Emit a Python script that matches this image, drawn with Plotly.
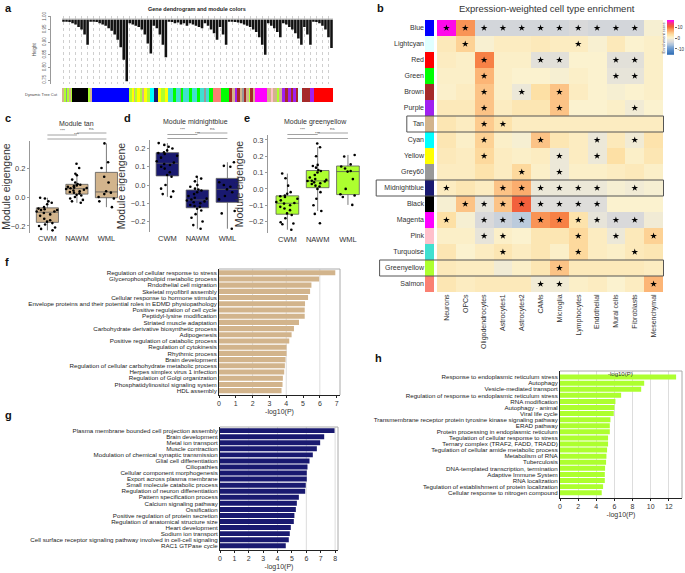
import numpy as np
import plotly.graph_objects as go

W, H = 685, 573
FONT = "Liberation Sans, Arial, sans-serif"

# ---------------- panel a : dendrogram + module colours ----------------
leaf_heights = [
    0.985, 0.983, 0.98, 0.975, 0.97, 0.96, 0.95, 0.93, 0.89,
    0.985, 0.983, 0.98, 0.975, 0.97, 0.965, 0.955, 0.945, 0.93, 0.91, 0.88, 0.83, 0.745,
    0.975, 0.97, 0.965, 0.96, 0.95, 0.93, 0.895, 0.855,
    0.965, 0.955, 0.93, 0.89, 0.84,
    0.985, 0.98, 0.975, 0.978, 0.97, 0.975, 0.965, 0.975, 0.97, 0.965, 0.96, 0.955,
    0.975, 0.965, 0.95, 0.935, 0.91,
    0.96, 0.93, 0.89,
    0.985, 0.983, 0.98, 0.978, 0.975, 0.97, 0.965, 0.96, 0.95, 0.94, 0.92, 0.89, 0.85,
    0.975, 0.965, 0.955, 0.94, 0.92,
    0.975, 0.97, 0.96, 0.95, 0.935, 0.915, 0.89,
    0.96, 0.93, 0.89,
    0.985, 0.98, 0.975, 0.965, 0.95, 0.92, 0.877]
merge_height = 0.99
height_ticks = [0.75, 0.80, 0.85, 0.90, 0.95, 1.00]

tree_cut_colors = ["tan", "greenyellow", "grey60", "greenyellow", "tan", "greenyellow",
                   "black", "greenyellow", "tan", "blue",
                   "greenyellow", "yellow", "tan", "greenyellow", "yellow", "greenyellow", "tan", "yellow", "greenyellow",
                   "cyan", "midnightblue", "yellow", "greenyellow", "yellow",
                   "turquoise", "green", "turquoise", "grey60", "green", "turquoise", "green", "turquoise", "green",
                   "turquoise", "grey60", "turquoise", "green",
                   "salmon", "green",
                   "brown", "tan", "purple", "brown", "tan", "grey60", "brown", "tan", "greenyellow", "brown", "tan",
                   "magenta", "tan", "pink", "tan", "greenyellow", "tan",
                   "purple", "brown", "purple", "brown", "purple", "brown",
                   "lightcyan", "brown", "purple", "red"]
tree_cut_widths = [2, 2, 1, 2, 2, 1,
                   16, 2, 2, 37,
                   3, 2, 1, 2, 3, 2, 2, 3, 3,
                   4, 4, 3, 4, 3,
                   5, 3, 4, 1, 2, 6, 3, 5, 3,
                   4, 2, 3, 4,
                   8, 8,
                   3, 3, 2, 3, 2, 2, 2, 3, 1, 3, 2,
                   12, 4, 2, 4, 2, 3,
                   3, 3, 3, 2, 3, 2,
                   4, 8, 4, 19]
R_COLORS = {"tan": "#D2B48C", "greenyellow": "#ADFF2F", "grey60": "#999999", "black": "#000000",
            "blue": "#0000FF", "yellow": "#FFFF00", "cyan": "#00FFFF", "midnightblue": "#191970",
            "turquoise": "#40E0D0", "green": "#00FF00", "salmon": "#FA8072", "brown": "#A52A2A",
            "purple": "#A020F0", "magenta": "#FF00FF", "pink": "#FFC0CB", "lightcyan": "#E0FFFF",
            "red": "#FF0000"}

# ---------------- panels c, d, e : module eigengenes ----------------
groups = ["CWM", "NAWM", "WML"]
tan_me = {
    "CWM": [-0.23, -0.22, -0.21, -0.20, -0.19, -0.18, -0.17, -0.16, -0.15, -0.13, -0.12, -0.11,
            -0.10, -0.10, -0.09, -0.09, -0.085, -0.08, -0.07, -0.05, -0.04, -0.03, -0.01, -0.005],
    "NAWM": [-0.04, -0.03, -0.02, -0.01, 0.0, 0.01, 0.015, 0.025, 0.03, 0.035, 0.04, 0.045, 0.05, 0.055,
             0.06, 0.062, 0.065, 0.07, 0.075, 0.08, 0.085, 0.09, 0.10, 0.12, 0.15, 0.16, 0.20, 0.23],
    "WML": [-0.07, -0.03, -0.01, 0.0, 0.02, 0.03, 0.04, 0.10, 0.14, 0.20, 0.24, 0.37],
}
midnightblue_me = {
    "CWM": [-0.065, -0.05, -0.035, -0.02, 0.0, 0.045, 0.055, 0.07, 0.09, 0.10, 0.11, 0.115,
            0.123, 0.13, 0.15, 0.16, 0.17, 0.175, 0.18, 0.19, 0.20, 0.21, 0.22, 0.23],
    "NAWM": [-0.24, -0.22, -0.20, -0.18, -0.16, -0.14, -0.13, -0.12, -0.115, -0.11, -0.10, -0.095, -0.09, -0.085,
             -0.08, -0.075, -0.07, -0.06, -0.05, -0.04, -0.03, -0.025, -0.02, -0.01, 0.0, 0.02, 0.035, 0.045],
    "WML": [-0.24, -0.156, -0.143, -0.079, -0.06, -0.04, -0.024, -0.01, 0.0, 0.015, 0.10, 0.105, 0.125],
}
greenyellow_me = {
    "CWM": [-0.25, -0.216, -0.212, -0.204, -0.18, -0.16, -0.15, -0.13, -0.12, -0.11, -0.10, -0.09,
            -0.086, -0.08, -0.07, -0.06, -0.05, -0.045, -0.04, -0.03, -0.02, 0.02, 0.065, 0.094],
    "NAWM": [-0.21, -0.153, -0.135, -0.10, -0.06, -0.02, 0.0, 0.015, 0.02, 0.03, 0.035, 0.04, 0.045, 0.048,
             0.05, 0.055, 0.06, 0.07, 0.085, 0.10, 0.11, 0.115, 0.13, 0.14, 0.147, 0.20, 0.255, 0.278],
    "WML": [-0.098, -0.05, -0.04, -0.033, 0.0, 0.06, 0.106, 0.11, 0.125, 0.137, 0.15, 0.198, 0.208],
}
comparisons = [(0, 1, "***"), (1, 2, "ns"), (0, 2, "***")]

# ---------------- panel b : cell type enrichment ----------------
modules = ["Blue", "Lightcyan", "Red", "Green", "Brown", "Purple", "Tan", "Cyan", "Yellow", "Grey60",
           "Midnightblue", "Black", "Magenta", "Pink", "Turquoise", "Greenyellow", "Salmon"]
module_hex = ["#0000FF", "#E0FFFF", "#FF0000", "#00FF00", "#A52A2A", "#A020F0", "#D2B48C", "#00FFFF",
              "#FFFF00", "#999999", "#191970", "#000000", "#FF00FF", "#FFC0CB", "#40E0D0", "#ADFF2F", "#FA8072"]
cell_types = ["Neurons", "OPCs", "Oligodendrocytes", "Astrocytes1", "Astrocytes2", "CAMs", "Microglia",
              "Lymphocytes", "Endothelial", "Mural cells", "Fibroblasts", "Mesenchymal"]
enrichment = [
    [16, 8, -4, -4, -4, -4, -4, -3.5, -4, -4, -4, -0.5],
    [1.5, 4, -0.3, 1, 1, 1.5, 1, 1, -0.3, 1.5, 0, 0.5],
    [1, 0.5, 9, 0.5, 0.5, -2.5, -2.5, 0, 0, -2.5, -2.5, 0.5],
    [0.5, 0.5, 6, 0.5, 0, 0, -0.5, 0.5, 0, -2, -2, 0.5],
    [0.3, 1, 5, 0.5, -1.5, 3, 5, 1, 0, -0.5, 0, 0.5],
    [1.5, 1.5, 5, 1, 2, 2, 5, 0, 0, 0.5, -1, 0],
    [2, 1, 4.5, 2.5, 1, 1, 1, 1, 1, 1, 1, 1],
    [2, 0.5, 4, 0.5, -0.5, 5, 2, 1, -1.5, 1.5, -1, 2.5],
    [1.5, 1, 3.5, 1, 0.5, 1, -1.5, 1, -1.5, 3, 0.5, 2],
    [1, 1, 2.5, 1, 3.5, 0.5, -1.5, 0.5, 0.5, 1, 1.5, 0.5],
    [1, 2, 1, 5, 6.5, -1.5, -1.5, -1.5, -1.5, -0.5, -1, -0.5],
    [-0.5, 5, -2, 5, 10.5, -3, -3, -3, -3, 0, 0, 0],
    [3, -0.5, -3.5, -4.5, -5.5, 8, 9, 2.5, -2, -3.5, -3.5, -1],
    [0.5, 0.5, -2, 0.5, 0, 2, 2, 3.5, 1, -1.5, 1.5, 4],
    [2, 0, 1, 2, 1, 2, 0.5, 3.5, 1, 0.5, 1.5, 2],
    [1.5, 1, 1, -1, 0.5, 2, 5, 1.5, 1.5, 1.5, 1.5, 1],
    [2, 1, 1.5, 1.5, 1.5, -1, -1, 0.5, 1, 0, 1, 6],
]
star_cols = [
    [0, 1, 2, 3, 4, 5, 6, 7, 8, 9, 10], [1, 7], [2, 5, 6, 9, 10], [2, 9, 10], [2, 4, 6], [2, 6, 10],
    [2, 3], [2, 5, 8, 10], [2, 6, 8], [4, 6], [0, 3, 4, 5, 6, 7, 8, 10], [1, 2, 3, 4, 5, 6, 7, 8],
    [0, 2, 3, 4, 5, 6, 7, 8, 9, 10], [2, 3, 7, 9, 11], [3, 7, 10], [6], [5, 6, 11],
]
boxed_modules = ["Tan", "Midnightblue", "Greenyellow"]
score_min, score_max = -15.5, 16.5
score_ticks = [-10, 0, 10]

# ---------------- panels f, g, h : enrichment terms ----------------
f_terms = ["Regulation of cellular response to stress", "Glycerophospholipid metabolic process",
           "Rndothelial cell migration", "Skeletal myofibril assembly", "Cellular response to hormone stimulus",
           "Envelope proteins and their potential roles in EDMD physiopathology", "Positive regulation of cell cycle",
           "Peptidyl-lysine modification", "Striated muscle adaptation", "Carbohydrate derivative biosynthetic process",
           "Adipogenesis", "Positive regulation of catabolic process", "Regulation of cytokinesis", "Rhythmic process",
           "Brain development", "Regulation of cellular carbohydrate metabolic process",
           "Herpes simplex virus 1 infection", "Regulation of Golgi organization",
           "Phosphatidylinositol signaling system", "HDL assembly"]
f_vals = [6.92, 5.96, 5.5, 5.42, 5.3, 5.12, 5.1, 5.1, 4.76, 4.46, 4.32, 4.18, 4.02, 4.02, 3.96, 3.92, 3.88, 3.8, 3.78, 3.72]

g_terms = ["Plasma membrane bounded cell projection assembly", "Brain development", "Metal ion transport",
           "Muscle contraction", "Modulation of chemical synaptic transmission", "Glial cell differentiation",
           "Ciliopathies", "Cellular component morphogenesis", "Export across plasma membrane",
           "Small molecule catabolic process", "Regulation of neuron differentiation", "Pattern specification process",
           "Calcium signaling pathway", "Ossification", "Positive regulation of protein secretion",
           "Regulation of anatomical structure size", "Heart development", "Sodium ion transport",
           "Cell surface receptor signaling pathway involved in cell-cell signaling", "RAC1 GTPase cycle"]
g_vals = [7.96, 7.24, 6.96, 6.73, 6.45, 6.22, 6.08, 6.03, 6.03, 5.96, 5.92, 5.48, 5.34, 5.27, 5.17, 5.13, 4.92, 4.85, 4.78, 4.57]

h_terms = ["Response to endoplasmic reticulum stress", "Autophagy", "Vesicle-mediated transport",
           "Regulation of response to endoplasmic reticulum stress", "RNA modification", "Autophagy - animal",
           "Viral life cycle", "Transmembrane receptor protein tyrosine kinase signaling pathway", "ERAD pathway",
           "Protein processing in endoplasmic reticulum", "Tegulation of cellular response to stress",
           "Ternary complex (TRAF2, FADD, TRADD)", "Tegulation of cellular amide metabolic process",
           "Metabolism of RNA", "Tuberculosis", "DNA-templated transcription, termination", "Adaptive Immune System",
           "RNA localization", "Tegulation of establishment of protein localization",
           "Cellular response to nitrogen compound"]
h_vals = [12.8, 9.28, 8.95, 6.74, 6.11, 6.0, 5.93, 5.56, 5.49, 5.49, 5.3, 5.3, 5.19, 5.12, 5.08, 4.97, 4.94, 4.94, 4.75, 4.6]


# ---------------- helpers ----------------
def xdom(a, b):
    return [a / W, b / W]


def ydom(top, bottom):
    return [1 - bottom / H, 1 - top / H]


def px(x):
    return x / W


def py(y):
    return 1 - y / H


fig = go.Figure()
annotations = []
shapes = []


def label(x, y, text, size=7, color="#222", bold=False, xanchor="center", yanchor="middle", angle=0):
    annotations.append(dict(x=px(x), y=py(y), xref="paper", yref="paper", text=f"<b>{text}</b>" if bold else text,
                            showarrow=False, xanchor=xanchor, yanchor=yanchor, textangle=angle,
                            font=dict(family=FONT, size=size, color=color)))


# ---- panel a ----
leaf_idx = np.arange(len(leaf_heights))
fig.add_trace(go.Bar(x=leaf_idx, y=[merge_height - h for h in leaf_heights], base=leaf_heights,
                     width=0.85, marker=dict(color="#111111", line=dict(width=0)), xaxis="x", yaxis="y"))
shapes.append(dict(type="line", xref="x", yref="y", x0=-0.5, x1=len(leaf_heights) - 0.5,
                   y0=merge_height + 0.002, y1=merge_height + 0.002, line=dict(color="#bbbbbb", width=1)))

widths = np.array(tree_cut_widths, dtype=float)
centers = np.cumsum(widths) - widths / 2
fig.add_trace(go.Bar(x=centers, y=[1] * len(widths), width=widths,
                     marker=dict(color=[R_COLORS[c] for c in tree_cut_colors], line=dict(width=0)),
                     xaxis="x2", yaxis="y2"))


# ---- panels c, d, e ----
def add_boxes(data, fill, xa, ya):
    for g in groups:
        vals = data[g]
        fig.add_trace(go.Box(x=[g] * len(vals), y=vals, boxpoints="all", jitter=1.0, pointpos=0,
                             fillcolor=fill, line=dict(color="#5a5a5a", width=0.8),
                             marker=dict(color="black", size=2.6), whiskerwidth=0, width=0.75,
                             xaxis=xa, yaxis=ya))


add_boxes(tan_me, "#D2B48C", "x3", "y3")
add_boxes(midnightblue_me, "#191970", "x4", "y4")
add_boxes(greenyellow_me, "#ADFF2F", "x5", "y5")

# ---- panel b ----
fig.add_trace(go.Bar(x=[1] * len(modules), y=modules, orientation="h", width=1,
                     marker=dict(color=module_hex, line=dict(width=0)), xaxis="x6", yaxis="y6"))
colorscale = [[0.0, "#2f6db5"], [0.172, "#6b9ad0"], [0.30, "#b5c8dd"], [0.37, "#d8d8da"],
              [0.43, "#e9e6d9"], [0.484, "#fbf2cf"], [0.578, "#fde0a5"], [0.672, "#fcb576"],
              [0.758, "#f8874a"], [0.80, "#f26535"], [0.88, "#f5455f"], [1.0, "#ff00ff"]]
fig.add_trace(go.Heatmap(z=enrichment, x=cell_types, y=modules, colorscale=colorscale,
                         zmin=score_min, zmax=score_max, showscale=False, xaxis="x7", yaxis="y7"))
sx, sy = [], []
for i, row in enumerate(modules):
    for c in star_cols[i]:
        sx.append(cell_types[c])
        sy.append(row)
fig.add_trace(go.Scatter(x=sx, y=sy, mode="markers", marker=dict(symbol="star", size=5, color="black"),
                         xaxis="x7", yaxis="y7"))
for m in boxed_modules:
    i = modules.index(m)
    left = 422 - len(m) * 3.4 - 5
    shapes.append(dict(type="rect", xref="paper", yref="y7", x0=px(left), x1=px(663.5),
                       y0=i - 0.5, y1=i + 0.5, line=dict(color="#555555", width=1)))

# colour key (drawn as a gradient strip on its own axis)
key_levels = np.linspace(score_min, score_max, 80)
fig.add_trace(go.Heatmap(z=key_levels.reshape(-1, 1), x=[0], y=key_levels, colorscale=colorscale,
                         zmin=score_min, zmax=score_max, showscale=False, xaxis="x11", yaxis="y11"))


# ---- panels f, g, h ----
def add_terms(terms, vals, color, xa, ya):
    fig.add_trace(go.Bar(x=vals, y=terms, orientation="h", width=0.82,
                         marker=dict(color=color, line=dict(width=0)), xaxis=xa, yaxis=ya))


add_terms(f_terms, f_vals, "#D2B48C", "x8", "y8")
add_terms(g_terms, g_vals, "#191970", "x9", "y9")
add_terms(h_terms, h_vals, "#ADFF2F", "x10", "y10")
for v in [2, 4, 6]:
    shapes.append(dict(type="line", xref="x8", yref="y8 domain", x0=v, x1=v, y0=0, y1=1,
                       line=dict(color="#dddddd", width=1), layer="below"))
for v in [2, 4, 6, 8]:
    shapes.append(dict(type="line", xref="x9", yref="y9 domain", x0=v, x1=v, y0=0, y1=1,
                       line=dict(color="#dddddd", width=1), layer="below"))

# ---------------- layout ----------------
tickf = dict(family=FONT, size=7.5, color="#444")
box_x = dict(type="category", categoryorder="array", categoryarray=groups, showline=False, ticks="",
             tickfont=dict(family=FONT, size=7.5, color="#333"), showgrid=False, zeroline=False)
box_y = dict(showline=True, linecolor="#999", linewidth=1, ticks="outside", ticklen=2, tickcolor="#999",
             tickfont=tickf, tickformat=".1f", showgrid=False, zeroline=False,
             title=dict(text="Module eigengene", font=dict(family=FONT, size=10.5, color="#333"), standoff=3))
term_y = dict(type="category", showline=True, linecolor="#222", linewidth=1, ticks="", showgrid=False,
              tickfont=dict(family=FONT, size=6.2, color="#222"), mirror=False, zeroline=False,
              tickmode="array")
term_x = dict(showline=True, linecolor="#222", linewidth=1, ticks="outside", ticklen=2, tickcolor="#222",
              tickfont=dict(family=FONT, size=7, color="#333"), showgrid=False, zeroline=False,
              title=dict(text="-log10(P)", font=dict(family=FONT, size=7, color="#333"), standoff=2))

fig.update_layout(
    width=W, height=H, margin=dict(l=0, r=0, t=0, b=0, autoexpand=False), autosize=False,
    paper_bgcolor="white", plot_bgcolor="white",
    showlegend=False, barmode="overlay", font=dict(family=FONT),
    # a
    xaxis=dict(domain=xdom(62, 333), range=[-0.5, len(leaf_heights) - 0.5], showticklabels=False, ticks="",
               showgrid=True, dtick=2, tick0=0, gridcolor="#cfcfcf", griddash="dot", gridwidth=0.6,
               zeroline=False, showline=False),
    yaxis=dict(domain=ydom(15.7, 83.8), range=[0.735, 1.005], anchor="free", position=px(50),
               showline=True, linecolor="#999", linewidth=0.8, ticks="outside", ticklen=2, tickcolor="#999",
               tickvals=height_ticks, ticktext=[f"{v:.2f}" for v in height_ticks], tickangle=-90,
               tickfont=dict(family=FONT, size=4.5, color="#555"), showgrid=False, zeroline=False,
               title=dict(text="Height", font=dict(family=FONT, size=4.5, color="#555"), standoff=4)),
    xaxis2=dict(domain=xdom(62, 333), range=[0, float(widths.sum())], visible=False, anchor="y2"),
    yaxis2=dict(domain=ydom(88, 102), range=[0, 1], visible=False, anchor="x2"),
    # c d e
    xaxis3=dict(box_x, domain=xdom(30, 125), range=[-0.59, 2.63], anchor="y3"),
    yaxis3=dict(box_y, domain=ydom(140.5, 232.5), range=[-0.245, 0.39], tickvals=[-0.2, 0.0, 0.2], anchor="x3"),
    xaxis4=dict(box_x, domain=xdom(150, 246), range=[-0.58, 2.62], anchor="y4"),
    yaxis4=dict(box_y, domain=ydom(140, 232), range=[-0.258, 0.247],
                tickvals=[-0.2, -0.1, 0.0, 0.1, 0.2], anchor="x4"),
    xaxis5=dict(box_x, domain=xdom(268, 364), range=[-0.64, 2.53], anchor="y5"),
    yaxis5=dict(box_y, domain=ydom(135, 233), range=[-0.27, 0.33],
                tickvals=[-0.2, -0.1, 0.0, 0.1, 0.2, 0.3], anchor="x5"),
    # b
    xaxis6=dict(domain=xdom(425, 434), range=[0, 1], visible=False, anchor="y6"),
    yaxis6=dict(domain=ydom(20, 292), type="category", categoryorder="array", categoryarray=modules,
                range=[len(modules) - 0.5, -0.5], tickmode="array", tickvals=modules, ticktext=modules,
                ticks="", showline=False, showgrid=False, anchor="x6",
                tickfont=dict(family=FONT, size=7, color="#333")),
    xaxis7=dict(domain=xdom(437, 663), type="category", categoryorder="array", categoryarray=cell_types,
                range=[-0.5, len(cell_types) - 0.5], tickmode="array", tickvals=cell_types, ticktext=cell_types,
                tickangle=-90, ticks="", showline=False, showgrid=False, anchor="y7",
                tickfont=dict(family=FONT, size=7, color="#333")),
    yaxis7=dict(domain=ydom(20, 292), type="category", categoryorder="array", categoryarray=modules,
                range=[len(modules) - 0.5, -0.5], showticklabels=False, ticks="", showgrid=False, anchor="x7"),
    xaxis11=dict(domain=xdom(667, 674), range=[-0.5, 0.5], visible=False, anchor="y11"),
    yaxis11=dict(domain=ydom(20, 55), range=[score_min, score_max], side="right", anchor="x11",
                 tickmode="array", tickvals=score_ticks, ticktext=[str(v) for v in score_ticks],
                 ticks="outside", ticklen=1.5, tickcolor="#666", showline=False,
                 showgrid=False, zeroline=False, tickfont=dict(family=FONT, size=4.5, color="#333")),
    # f g h
    xaxis8=dict(term_x, domain=xdom(219, 340), range=[0, 7.2], dtick=1, anchor="y8"),
    yaxis8=dict(term_y, domain=ydom(269, 395), categoryorder="array", categoryarray=f_terms,
                tickvals=f_terms, ticktext=f_terms, range=[19.7, -0.6], anchor="x8"),
    xaxis9=dict(term_x, domain=xdom(220, 338), range=[0, 8.2], dtick=1, anchor="y9"),
    yaxis9=dict(term_y, domain=ydom(427, 550), categoryorder="array", categoryarray=g_terms,
                tickvals=g_terms, ticktext=g_terms, range=[19.7, -0.6], anchor="x9"),
    xaxis10=dict(term_x, domain=xdom(560, 682), range=[0, 13.45], dtick=2, anchor="y10",
                 showgrid=True, gridcolor="#dddddd"),
    yaxis10=dict(term_y, domain=ydom(371, 498), categoryorder="array", categoryarray=h_terms,
                 tickvals=h_terms, ticktext=h_terms, range=[19.87, -1.0], anchor="x10"),
)

# frames (top/right grey borders) for f, g, h
for xa, ya in [("x8", "y8"), ("x9", "y9"), ("x10", "y10")]:
    shapes.append(dict(type="path", xref=f"{xa} domain", yref=f"{ya} domain",
                       path="M 0,1 L 1,1 L 1,0", line=dict(color="#aaaaaa", width=1)))

# significance brackets
bracket_levels = {"x3": [135, 133, 139], "x4": [134.5, 133, 138.5], "x5": [134.5, 133, 138.5]}
for xa, levels in bracket_levels.items():
    for (a, b, txt), yl in zip(comparisons, levels):
        shapes.append(dict(type="line", xref=xa, yref="paper", x0=a, x1=b, y0=py(yl), y1=py(yl),
                           line=dict(color="#8a8a8a", width=0.8)))
        annotations.append(dict(xref=xa, yref="paper", x=(a + b) / 2, y=py(yl - 0.2), text=txt, showarrow=False,
                                yanchor="bottom", font=dict(family=FONT, size=4.3, color="#444")))

# titles & panel letters
label(197, 9, "Gene dendrogram and module colors", size=5.5, bold=True, color="#222")
label(60, 95, "Dynamic Tree Cut", size=4, color="#444", xanchor="right")
label(76, 123.5, "Module tan", size=7, color="#333")
label(196, 122, "Module midnightblue", size=7, color="#333")
label(315, 122, "Module greenyellow", size=7, color="#333")
label(547, 9, "Expression-weighted cell type enrichment", size=9.5, color="#333")
label(663, 37.5, "Enrichment score", size=4, color="#444", angle=-90)
label(620, 374, "-log10(P)", size=6, color="#333")
for t, x, y in [("a", 3, 8), ("b", 375, 8), ("c", 3, 118), ("d", 122, 118), ("e", 242, 118),
                ("f", 3, 262), ("g", 3, 415), ("h", 373, 358)]:
    label(x, y, t, size=11, bold=True, color="#111", xanchor="left")

fig.update_layout(annotations=annotations, shapes=shapes)
fig.write_html("out.html", config={"displayModeBar": False, "responsive": False},
               post_script="document.body.style.margin='0px';document.body.style.padding='0px';"
                           "document.body.style.overflow='hidden';")
